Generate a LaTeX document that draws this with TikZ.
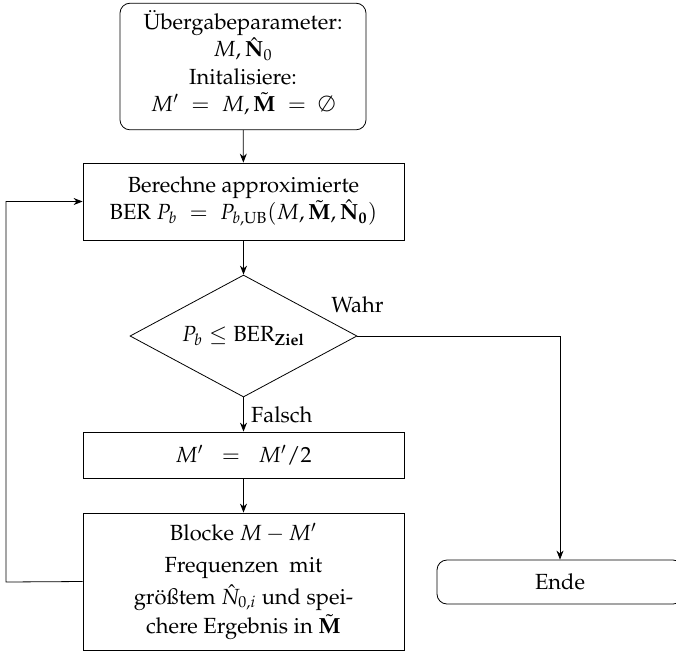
\documentclass[tikz,border=0pt,11pt]{standalone}
\usepackage[T1]{fontenc}
\usepackage{amsmath}
\usepackage{mathpazo}
\usepackage{tikz}
\usetikzlibrary{shapes.geometric,arrows.meta}

\begin{document}
\begin{tikzpicture}[x=0.5pt,y=-0.5pt,
    startstop/.style={draw, rounded corners=5pt, minimum width=123pt, align=center},
    process/.style={draw, minimum width=160.5pt, align=center},
    decision/.style={draw, diamond, aspect=1.86, minimum width=113.5pt, minimum height=61pt, inner sep=0pt},
    pfeil/.style={-{Stealth[length=4.5pt,width=3.5pt]}}]
    \useasboundingbox (0,0) rectangle (676,650);
    % Knoten
    \node[startstop, minimum height=62.5pt] (start) at (243,66.5)
        {\"Ubergabeparameter:\\ $M,\hat{\mathbf{N}}_0$\\ Initalisiere:\\ $M' \;=\; M,\tilde{\mathbf{M}} \;=\; \emptyset$\\[-8pt]\mbox{}};
    \node[process, minimum height=38.5pt] (ber) at (243.5,201.5)
        {Berechne approximierte\\ BER $P_b \;=\; P_{b,\text{UB}}(M,\tilde{\mathbf{M}},\hat{\mathbf{N}}_{\mathbf{0}})$};
    \node[decision] (test) at (243.5,336) {$P_b \leq \text{BER}_{\textbf{Ziel}}$};
    \node[process, minimum height=23pt] (halb) at (243.5,455) {$M' \;\;=\;\; M'/2$};
    \node[process, minimum height=68.5pt, inner ysep=3pt] (block) at (243.5,581.5)
        {Blocke $M-M'$\\[2.5pt] Frequenzen \ mit\\[2pt] gr\"o\ss{}tem $\hat{N}_{0,i}$ und spei-\\[1pt] chere Ergebnis in $\tilde{\mathbf{M}}$};
    \node[startstop, minimum height=22pt] (ende) at (560,582) {Ende};
    \coordinate (links) at (6,582);
    % Pfeile
    \draw[pfeil] (start) -- (ber);
    \draw[pfeil] (ber) -- (test);
    \draw[pfeil] (test) -- node[right] {Falsch} (halb);
    \draw[pfeil] (halb) -- (block);
    \draw[pfeil] (test.east) -| node[pos=0, above=8pt] {Wahr} (ende);
    % Rueckfuehrung
    \draw[pfeil] (block.west) -- (links) |- (ber.west);
\end{tikzpicture}
\end{document}
